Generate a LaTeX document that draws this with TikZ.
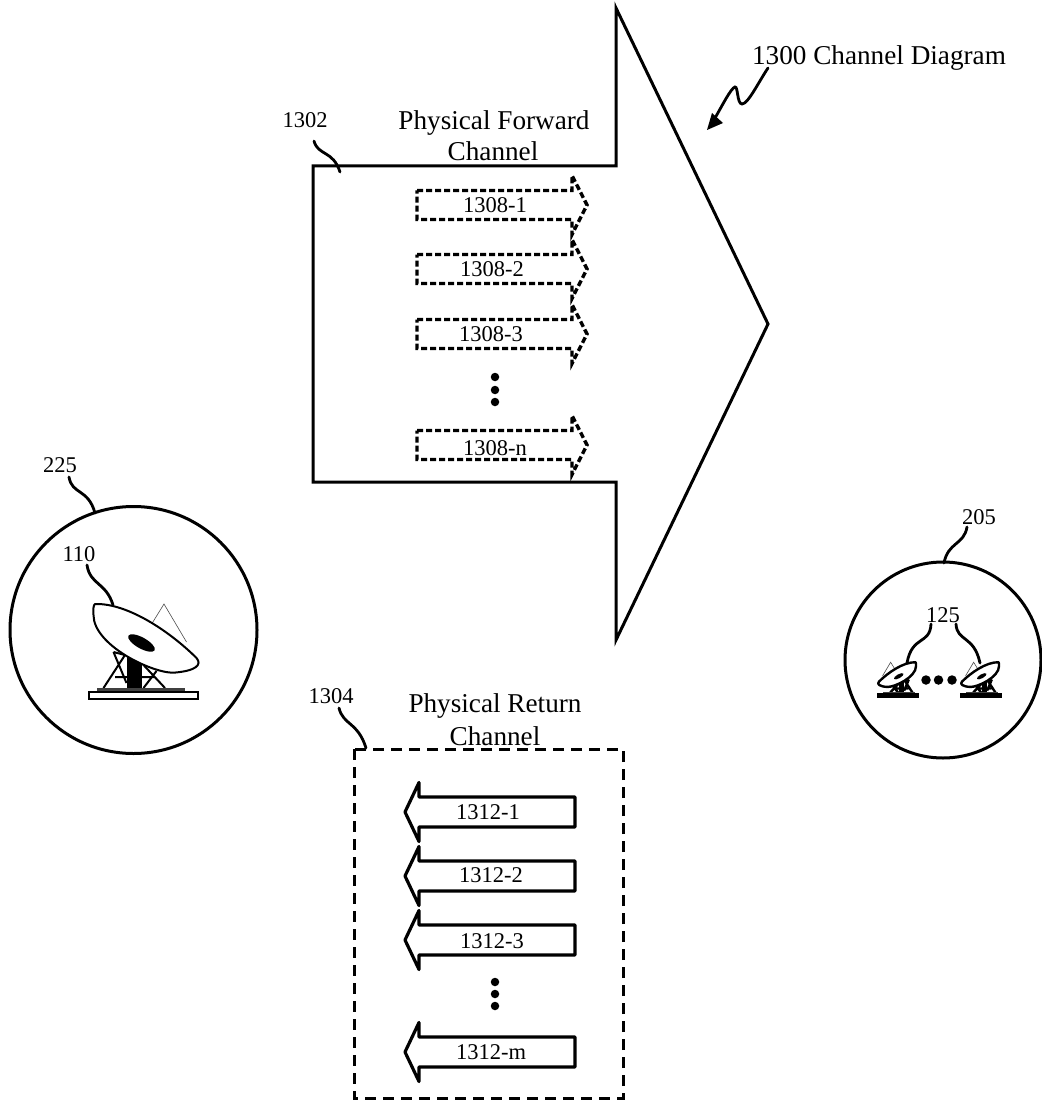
\documentclass[tikz,border=0pt]{standalone}
\usepackage{fontspec}
\setmainfont{Liberation Serif}
\tikzset{
  lbl/.style={font=\fontsize{22.5}{24}\selectfont,inner sep=0pt,text=black},
  biglbl/.style={font=\fontsize{27.2}{30}\selectfont,inner sep=0pt,text=black,anchor=base},
  lead/.style={line width=2.8pt,line cap=round},
  bigshape/.style={line width=3pt,line join=miter},
  fwdarrow/.style={line width=3.4pt,dash pattern=on 6pt off 3pt},
  retarrow/.style={line width=3.2pt,line join=round},
  retbox/.style={line width=3pt,dash pattern=on 11pt off 7pt},
  ringnode/.style={circle,draw,line width=3pt,inner sep=0pt},
  dotmark/.style={circle,fill=black,inner sep=0pt,minimum size=#1},
}
\newcommand{\fwdarr}[1]{%
  \draw[fwdarrow] (417,#1-14.5) -- (572,#1-14.5) -- (572,#1-29.5) -- (587,#1) -- (572,#1+29.5) -- (572,#1+14.5) -- (417,#1+14.5) -- cycle;}
\newcommand{\retarr}[1]{%
  \draw[retarrow] (575,#1-15) -- (419,#1-15) -- (419,#1-29.5) -- (405,#1) -- (419,#1+29.5) -- (419,#1+15) -- (575,#1+15) -- cycle;}
% dish drawn in coordinates relative to the middle of its base; #1 = line width, #2 = plate fill
\newcommand{\dishshape}[2]{%
  \draw[line width=0.6pt,black!70] (-0.5,-57) -- (20.5,-91) -- (43,-53);
  \fill[black] (-16.5,-38) rectangle (-1.5,-7);
  \draw[line width=#1] (-40,-7) -- (-18.5,-40) (-30,-43) -- (-17,-12) (-30,-43) -- (-18.5,-40)
    (0,-30) -- (21.5,-7) (0,-7) -- (13,-24) (-28.5,-18) -- (11.5,-18);
  \draw[line width=#1,fill=white,line join=round] (-48.5,-91) .. controls (-15,-92) and (28,-62) .. (53,-37)
     .. controls (59,-30) and (52,-24) .. (30,-22.3)
     .. controls (8,-22) and (-50,-50) .. (-50,-80) .. controls (-50.5,-86) and (-50,-90) .. cycle;
  \fill[black,rotate around={-29:(-2,-52)}] (-2,-52) ellipse [x radius=15,y radius=5.5];
  \fill[black!75] (-46.5,-7) rectangle (41.5,-3);
  \draw[line width=#1,fill=#2] (-54.5,-3) rectangle (54.5,4);
}
\begin{document}
\begin{tikzpicture}[x=1pt,y=-1pt]
\useasboundingbox[fill=white] (0,0) rectangle (1041,1102);

% big forward channel shape
\draw[bigshape] (313,166) -- (616,166) -- (616,8) -- (768,324) -- (616,640) -- (616,482) -- (313,482) -- cycle;
\coordinate (bigcorner) at (340,172);

% forward arrows
\fwdarr{205}
\fwdarr{269}
\fwdarr{334}
\fwdarr{445}
\node[lbl] (f1) at (495,205) {1308-1};
\node[lbl] (f2) at (492,269) {1308-2};
\node[lbl] (f3) at (491,334) {1308-3};
\node[lbl] (fn) at (495,448) {1308-n};
\node[dotmark=8.5pt] (fd1) at (495,377) {};
\node[dotmark=8.5pt] (fd2) at (495,390) {};
\node[dotmark=8.5pt] (fd3) at (495,402) {};

% return box
\draw[retbox] (354,749) rectangle (623,1098);
\coordinate (retcorner) at (366,748);
\retarr{812}
\retarr{876}
\retarr{940}
\retarr{1052}
\node[lbl] (r1) at (488,812) {1312-1};
\node[lbl] (r2) at (491,875) {1312-2};
\node[lbl] (r3) at (492,941) {1312-3};
\node[lbl] (rm) at (491,1052) {1312-m};
\node[dotmark=8.5pt] (rd1) at (495,982) {};
\node[dotmark=8.5pt] (rd2) at (495,994) {};
\node[dotmark=8.5pt] (rd3) at (495,1006) {};

% circles
\node[ringnode,minimum size=247pt] (c225) at (133.5,630) {};
\node[ringnode,minimum size=196pt] (c205) at (943,660) {};

% large dish
\begin{scope}[shift={(143.5,695)}]
  \dishshape{2pt}{white}
\end{scope}
\coordinate (dish110) at (113,605);

% small dishes
\begin{scope}[shift={(898,695)},xscale=-.36,yscale=.36]
  \dishshape{2.4pt}{black}
\end{scope}
\begin{scope}[shift={(981,695)},xscale=-.36,yscale=.36]
  \dishshape{2.4pt}{black}
\end{scope}
\coordinate (dishL) at (907,663);
\coordinate (dishR) at (980,663);
\node[dotmark=9.5pt] (sd1) at (926,680) {};
\node[dotmark=9.5pt] (sd2) at (938.5,680) {};
\node[dotmark=9.5pt] (sd3) at (952,680) {};

% labels
\node[biglbl] (t1300) at (879,65) {1300 Channel Diagram};
\node[lbl] (t1302) at (305,120) {1302};
\node[lbl] (t1304) at (331,696) {1304};
\node[lbl] (t225) at (60,465) {225};
\node[lbl] (t110) at (79,554) {110};
\node[lbl] (t205) at (979,517) {205};
\node[lbl] (t125) at (943,615) {125};
\node[biglbl] (tfwd1) at (494,130) {Physical Forward};
\node[biglbl] (tfwd2) at (493,161) {Channel};
\node[biglbl] (tret1) at (495,712) {Physical Return};
\node[biglbl] (tret2) at (495,745) {Channel};

% leaders
\coordinate (s1300) at (768,68);
\draw[lead] (s1300) .. controls (758,83) and (748,104) .. (742,104) .. controls (737,104) and (738,86) .. (735,87) .. controls (731,88) and (722,106) .. (715,118);
\fill[black] (707,130) -- (723,123) -- (712,113) -- cycle;
\draw[lead] (314,141) .. controls (318,156) and (333,150) .. (bigcorner);
\draw[lead] (339,708) .. controls (343,725) and (358,722) .. (retcorner);
\draw[lead] (69,477) .. controls (72,495) and (88,488) .. (95,513);
\draw[lead] (87,565) .. controls (90,585) and (106,582) .. (dish110);
\draw[lead] (967,527) .. controls (964,545) and (948,542) .. (944,563);
\draw[lead] (931,624) .. controls (930,645) and (912,635) .. (dishL);
\draw[lead] (956,624) .. controls (957,642) and (974,635) .. (dishR);
\end{tikzpicture}
\end{document}
